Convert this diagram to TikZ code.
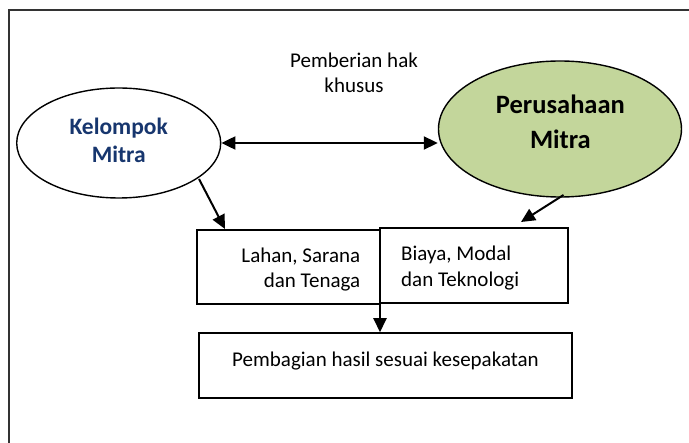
\documentclass[tikz,border=0pt]{standalone}
\usepackage{fontspec}
\setmainfont{Carlito}
\usetikzlibrary{shapes.geometric,arrows.meta}
\definecolor{navytext}{RGB}{23,54,110}
\definecolor{olivefill}{RGB}{195,214,155}
\tikzset{
  frameline/.style={line width=1.8pt, draw=black!80},
  bubble/.style={ellipse, draw, line width=1.4pt, inner sep=0pt},
  panel/.style={rectangle, draw, line width=1.5pt, inner sep=0pt},
  tip/.style={Triangle[length=14pt,width=13pt]},
  flow/.style={line width=2pt, -{Triangle[length=14pt,width=13pt]}},
  both/.style={line width=2pt, {Triangle[length=14pt,width=13pt]}-{Triangle[length=14pt,width=13pt]}},
  txt/.style={font=\fontsize{21}{25}\selectfont, anchor=base, inner sep=0pt},
  kelfont/.style={font=\fontsize{23.5}{28}\selectfont\bfseries, anchor=base, inner sep=0pt},
  perfont/.style={font=\fontsize{26.5}{32}\selectfont\bfseries, anchor=base, inner sep=0pt},
}
\begin{document}
\begin{tikzpicture}[x=1pt,y=-1pt]
\useasboundingbox (0,0) rectangle (689,443);
\fill[white] (0,0) rectangle (689,443);
% open frame: only top and left edges fall inside the page
\draw[frameline] (9,443) -- (9,10) -- (689,10);

% partners
\node[bubble, minimum width=204pt, minimum height=110pt] (kel) at (118.7,143) {};
\node[bubble, fill=olivefill, minimum width=243pt, minimum height=136pt] (per) at (560,129) {};
\node[kelfont, text=navytext] (kel1) at (118.7,134.5) {Kelompok};
\node[kelfont, text=navytext] (kel2) at (118.7,163) {Mitra};
\node[perfont] (per1) at (560.4,113.7) {Perusahaan};
\node[perfont] (per2) at (560.4,148.3) {Mitra};

% special rights between the partners
\node[txt] (hak1) at (354,67.5) {Pemberian hak};
\node[txt] (hak2) at (354,92.2) {khusus};
\draw[both] (kel.east) -- (kel.east -| per.west);

% contributions
\node[panel, minimum width=183pt, minimum height=74pt] (lahan) at (288.5,267) {};
\node[panel, fill=white, minimum width=188pt, minimum height=75pt] (biaya) at (474,265.5) {};
\node[txt, anchor=base east] (lah1) at (360.4,262.3) {Lahan, Sarana};
\node[txt, anchor=base east] (lah2) at (360.4,287.6) {dan Tenaga};
\node[txt, anchor=base west] (bia1) at (401,260.2) {Biaya, Modal};
\node[txt, anchor=base west] (bia2) at (401,286.5) {dan Teknologi};

% outcome
\node[panel, minimum width=373pt, minimum height=65pt] (hasil) at (385.5,365.5) {};
\node[txt] (has1) at (385.5,366.8) {Pembagian hasil sesuai kesepakatan};

% flows
\coordinate (kelout) at (199,179);
\coordinate (lahanin) at (225,229);
\coordinate (perout) at (563.5,195);
\coordinate (biayain) at (521,222);
\coordinate (split) at (380,293);
\draw[flow] (kelout) -- (lahanin);
\draw[flow] (perout) -- (biayain);
\draw[flow] (split) -- (split |- hasil.north);
\end{tikzpicture}
\end{document}
